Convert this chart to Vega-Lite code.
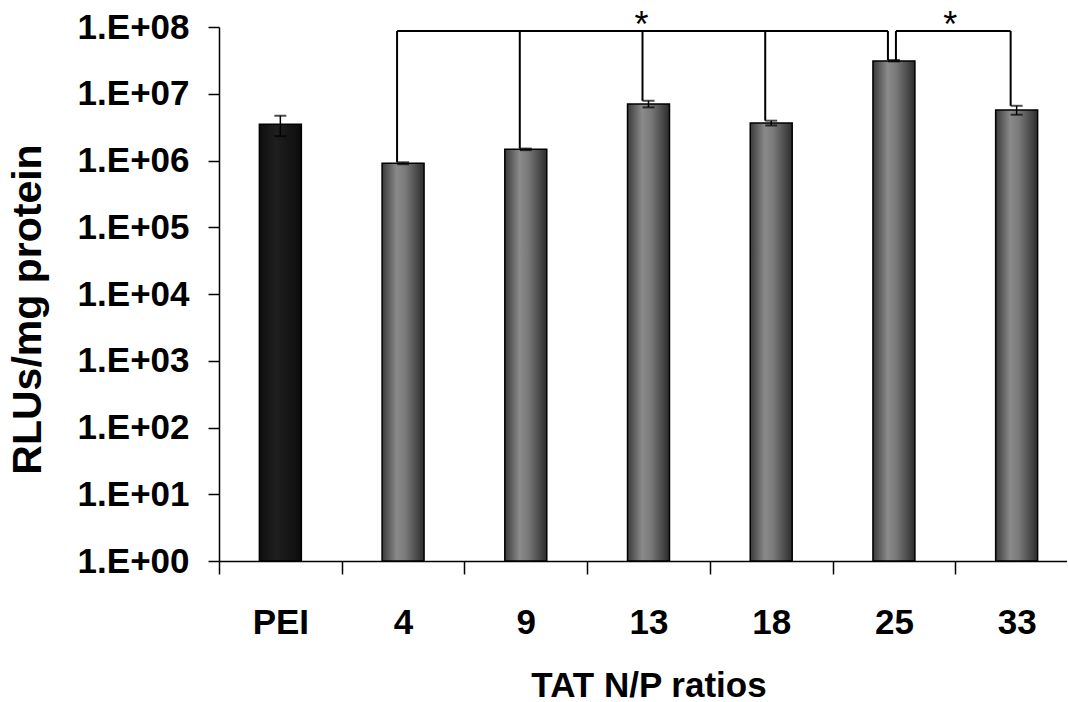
{
  "$schema": "https://vega.github.io/schema/vega-lite/v6.json",
  "width": 848,
  "height": 534,
  "autosize": "none",
  "padding": {"left": 219, "top": 27, "right": 0, "bottom": 141},
  "background": "white",
  "config": {"view": {"stroke": null}, "font": "Liberation Sans"},
  "datasets": {
    "bars": [
      {"ratio": "PEI", "rlu": 3500000, "lo": 2300000, "hi": 4700000, "group": "PEI", "base": 1},
      {"ratio": "4", "rlu": 910000, "lo": 880000, "hi": 940000, "group": "TAT", "base": 1},
      {"ratio": "9", "rlu": 1470000, "lo": 1430000, "hi": 1510000, "group": "TAT", "base": 1},
      {"ratio": "13", "rlu": 7000000, "lo": 6250000, "hi": 7850000, "group": "TAT", "base": 1},
      {"ratio": "18", "rlu": 3650000, "lo": 3350000, "hi": 3950000, "group": "TAT", "base": 1},
      {"ratio": "25", "rlu": 31000000, "lo": 30500000, "hi": 32000000, "group": "TAT", "base": 1},
      {"ratio": "33", "rlu": 5700000, "lo": 4850000, "hi": 6600000, "group": "TAT", "base": 1}
    ],
    "dropsA": [
      {"ratio": "4", "top": 87000000, "bottom": 940000},
      {"ratio": "9", "top": 87000000, "bottom": 1510000},
      {"ratio": "13", "top": 87000000, "bottom": 7850000},
      {"ratio": "18", "top": 87000000, "bottom": 3950000},
      {"ratio": "25", "top": 87000000, "bottom": 32000000},
      {"ratio": "33", "top": 87000000, "bottom": 6600000}
    ],
    "dropsB": [
      {"ratio": "25", "top": 87000000, "bottom": 32000000}
    ],
    "bracket1": [{"from": "4", "to": "25", "y": 87000000}],
    "bracket2": [{"from": "25", "to": "33", "y": 87000000}],
    "starCenter": [{"at": "13", "y": 70000000, "label": "*"}],
    "starEdge": [{"at": "33", "y": 70000000, "label": "*"}]
  },
  "layer": [
    {
      "data": {"name": "bars"},
      "transform": [{"filter": "datum.group === 'TAT'"}],
      "mark": {"type": "bar", "width": {"band": 0.342}, "stroke": "black", "strokeWidth": 1.5,
        "fill": {"gradient": "linear", "x1": 0, "x2": 1, "y1": 0, "y2": 0,
          "stops": [{"offset": 0, "color": "#3a3a3a"}, {"offset": 0.35, "color": "#8a8a8a"}, {"offset": 0.55, "color": "#7a7a7a"}, {"offset": 1, "color": "#2c2c2c"}]}},
      "encoding": {
        "x": {
          "field": "ratio", "type": "nominal",
          "scale": {"domain": ["PEI", "4", "9", "13", "18", "25", "33"], "paddingInner": 0, "paddingOuter": 0, "range": [0, 859]},
          "axis": {
            "tickBand": "extent", "tickSize": 13, "tickColor": "black", "tickWidth": 1.5,
            "domainColor": "black", "domainWidth": 1.5,
            "labelAngle": 0, "labelFont": "Liberation Sans", "labelFontSize": 35, "labelFontWeight": "bold",
            "labelColor": "black", "labelBaseline": "alphabetic", "labelPadding": 59,
            "title": "TAT N/P ratios", "titleFont": "Liberation Sans", "titleFontSize": 35,
            "titleFontWeight": "bold", "titleColor": "black", "titleBaseline": "alphabetic", "titleY": 135
          }
        },
        "y": {
          "field": "rlu", "type": "quantitative",
          "scale": {"type": "log", "domain": [1, 100000000], "nice": false},
          "axis": {
            "values": [1, 10, 100, 1000, 10000, 100000, 1000000, 10000000, 100000000],
            "labelExpr": "'1.E+0' + round(log(datum.value) / LN10)",
            "labelFont": "Liberation Sans", "labelFontSize": 35, "labelFontWeight": "bold",
            "labelColor": "black", "labelPadding": 19, "labelOverlap": false, "labelFlush": false,
            "tickSize": 11, "tickColor": "black", "tickWidth": 1.5,
            "domainColor": "black", "domainWidth": 1.5, "grid": false,
            "title": "RLUs/mg protein", "titleFont": "Liberation Sans", "titleFontSize": 41,
            "titleFontWeight": "bold", "titleColor": "black", "titleAngle": -90,
            "titleX": -179, "titleY": 282, "titleBaseline": "alphabetic", "titleAlign": "center"
          }
        },
        "y2": {"field": "base"}
      }
    },
    {
      "data": {"name": "bars"},
      "transform": [{"filter": "datum.group === 'PEI'"}],
      "mark": {"type": "bar", "width": {"band": 0.342}, "stroke": "black", "strokeWidth": 1.5,
        "fill": {"gradient": "linear", "x1": 0, "x2": 1, "y1": 0, "y2": 0,
          "stops": [{"offset": 0, "color": "#0e0e0e"}, {"offset": 0.4, "color": "#1f1f1f"}, {"offset": 1, "color": "#0c0c0c"}]}},
      "encoding": {
        "x": {"field": "ratio", "type": "nominal", "scale": {"domain": ["PEI", "4", "9", "13", "18", "25", "33"]}},
        "y": {"field": "rlu", "type": "quantitative"},
        "y2": {"field": "base"}
      }
    },
    {
      "data": {"name": "bars"},
      "mark": {"type": "rule", "color": "black", "strokeWidth": 1.5},
      "encoding": {
        "x": {"field": "ratio", "type": "nominal", "scale": {"domain": ["PEI", "4", "9", "13", "18", "25", "33"]}},
        "y": {"field": "lo", "type": "quantitative"},
        "y2": {"field": "hi"}
      }
    },
    {
      "data": {"name": "bars"},
      "mark": {"type": "tick", "color": "black", "size": 12, "thickness": 2},
      "encoding": {
        "x": {"field": "ratio", "type": "nominal", "scale": {"domain": ["PEI", "4", "9", "13", "18", "25", "33"]}},
        "y": {"field": "hi", "type": "quantitative"}
      }
    },
    {
      "data": {"name": "bars"},
      "mark": {"type": "tick", "color": "black", "size": 12, "thickness": 2},
      "encoding": {
        "x": {"field": "ratio", "type": "nominal", "scale": {"domain": ["PEI", "4", "9", "13", "18", "25", "33"]}},
        "y": {"field": "lo", "type": "quantitative"}
      }
    },
    {
      "data": {"name": "dropsA"},
      "mark": {"type": "rule", "color": "black", "strokeWidth": 2, "xOffset": -6},
      "encoding": {
        "x": {"field": "ratio", "type": "nominal", "scale": {"domain": ["PEI", "4", "9", "13", "18", "25", "33"]}},
        "y": {"field": "top", "type": "quantitative"},
        "y2": {"field": "bottom"}
      }
    },
    {
      "data": {"name": "dropsB"},
      "mark": {"type": "rule", "color": "black", "strokeWidth": 2, "xOffset": 2},
      "encoding": {
        "x": {"field": "ratio", "type": "nominal", "scale": {"domain": ["PEI", "4", "9", "13", "18", "25", "33"]}},
        "y": {"field": "top", "type": "quantitative"},
        "y2": {"field": "bottom"}
      }
    },
    {
      "data": {"name": "bracket1"},
      "mark": {"type": "rule", "color": "black", "strokeWidth": 2, "xOffset": -6, "x2Offset": -6},
      "encoding": {
        "x": {"field": "from", "type": "nominal", "scale": {"domain": ["PEI", "4", "9", "13", "18", "25", "33"]}},
        "x2": {"field": "to"},
        "y": {"field": "y", "type": "quantitative"}
      }
    },
    {
      "data": {"name": "bracket2"},
      "mark": {"type": "rule", "color": "black", "strokeWidth": 2, "xOffset": 2, "x2Offset": -6},
      "encoding": {
        "x": {"field": "from", "type": "nominal", "scale": {"domain": ["PEI", "4", "9", "13", "18", "25", "33"]}},
        "x2": {"field": "to"},
        "y": {"field": "y", "type": "quantitative"}
      }
    },
    {
      "data": {"name": "starCenter"},
      "mark": {"type": "text", "font": "Liberation Sans", "fontSize": 36, "color": "black", "baseline": "alphabetic", "align": "center", "xOffset": -7},
      "encoding": {
        "x": {"field": "at", "type": "nominal", "scale": {"domain": ["PEI", "4", "9", "13", "18", "25", "33"]}},
        "y": {"field": "y", "type": "quantitative"},
        "text": {"field": "label"}
      }
    },
    {
      "data": {"name": "starEdge"},
      "mark": {"type": "text", "font": "Liberation Sans", "fontSize": 36, "color": "black", "baseline": "alphabetic", "align": "center", "xOffset": -5},
      "encoding": {
        "x": {"field": "at", "type": "nominal", "bandPosition": 0, "scale": {"domain": ["PEI", "4", "9", "13", "18", "25", "33"]}},
        "y": {"field": "y", "type": "quantitative"},
        "text": {"field": "label"}
      }
    }
  ]
}
